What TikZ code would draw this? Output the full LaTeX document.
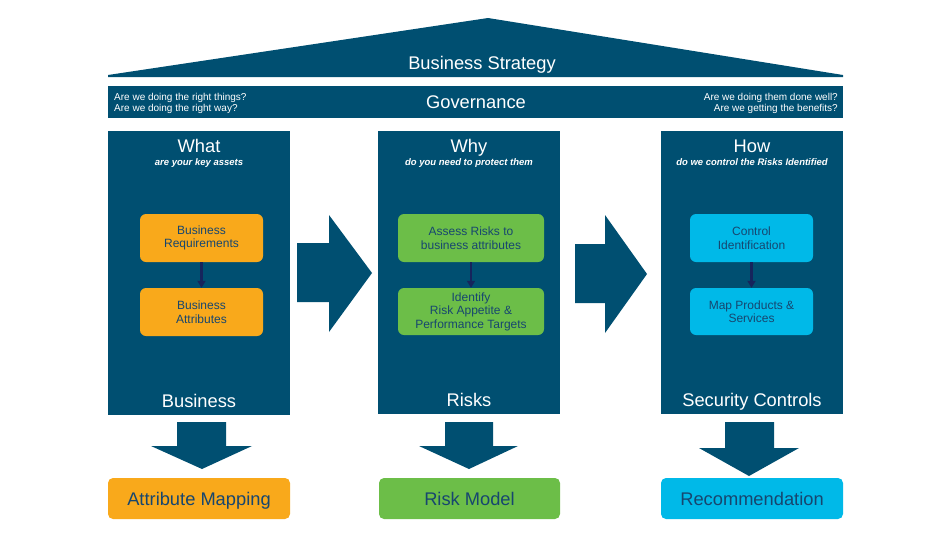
\documentclass[tikz,border=0pt]{standalone}
\usepackage{fontspec}
\setmainfont{Liberation Sans}
\usetikzlibrary{arrows.meta}
\definecolor{navy}{HTML}{004F71}
\definecolor{boxtext}{HTML}{17466F}
\definecolor{linkcol}{HTML}{16245C}
\definecolor{orange}{HTML}{F9A91B}
\definecolor{green}{HTML}{6CBE48}
\definecolor{cyan}{HTML}{00B9E8}
\tikzset{
  column/.style = {fill = navy, minimum width = 182pt, minimum height = 283pt, inner sep = 0pt},
  task/.style = {rounded corners = 6pt, minimum height = 48pt, inner sep = 0pt, align = center,
    text = boxtext, font = \fontsize{12}{13.5}\selectfont},
  result/.style = {rounded corners = 5pt, minimum width = 182pt, minimum height = 41pt, inner sep = 0pt,
    text = boxtext, font = \fontsize{18.3}{20}\selectfont, text height = 13pt, text depth = 0pt},
  heading/.style = {text = white, font = \fontsize{18.3}{20}\selectfont, inner sep = 0pt,
    text height = 13pt, text depth = 0pt},
  subheading/.style = {text = white, font = \fontsize{9.5}{11}\selectfont\bfseries\itshape, inner sep = 0pt,
    text height = 7pt, text depth = 0pt},
  question/.style = {text = white, font = \fontsize{10}{11}\selectfont, inner sep = 0pt},
  link/.style = {draw = linkcol, line width = 2.2pt, -{Triangle[width = 8pt, length = 7pt]}}
}
\begin{document}
\begin{tikzpicture}[x = 1pt, y = -1pt]
\useasboundingbox (0, 0) rectangle (931, 533);
% roof
\fill[navy] (108, 77) -- (108, 75) -- (488, 18) -- (843, 75) -- (843, 77) -- cycle;
\node[heading] (strategy) at (482, 63) {Business Strategy};
% governance bar
\node[fill = navy, minimum width = 735pt, minimum height = 32pt, inner sep = 0pt] (gov) at (475.5, 102) {};
\node[heading] (govtext) at (476, 102) {Governance};
\node[question, anchor = west, align = left] (qleft) at (114, 103.5) {Are we doing the right things?\\Are we doing the right way?};
\node[question, anchor = east, align = right] (qright) at (838, 103.5) {Are we doing them done well?\\Are we getting the benefits?};
% columns
\node[column, minimum height = 284pt] (what) at (199, 273) {};
\node[column] (why) at (469, 272.5) {};
\node[column] (how) at (752, 272.5) {};
\node[heading] (whattitle) at (199, 146) {What};
\node[subheading] (whatsub) at (199, 162) {are your key assets};
\node[heading] (whatfoot) at (199, 401) {Business};
\node[heading] (whytitle) at (469, 146) {Why};
\node[subheading] (whysub) at (469, 162) {do you need to protect them};
\node[heading] (whyfoot) at (469, 400) {Risks};
\node[heading] (howtitle) at (752, 146) {How};
\node[subheading] (howsub) at (752, 162) {do we control the Risks Identified};
\node[heading] (howfoot) at (752, 400) {Security Controls};
% tasks
\node[task, fill = orange, minimum width = 123pt] (req) at (201.5, 238) {Business\\Requirements};
\node[task, fill = orange, minimum width = 123pt] (attr) at (201.5, 312) {Business\\Attributes};
\draw[link] (req) -- (attr);
\node[task, fill = green, minimum width = 146pt] (assess) at (471, 238) {Assess Risks to\\business attributes};
\node[task, fill = green, minimum width = 146pt, minimum height = 47pt] (appetite) at (471, 311.5) {Identify\\Risk Appetite \&\\Performance Targets};
\draw[link] (assess) -- (appetite);
\node[task, fill = cyan, minimum width = 123pt] (control) at (751.5, 238) {Control\\Identification};
\node[task, fill = cyan, minimum width = 123pt, minimum height = 47pt] (products) at (751.5, 311.5) {Map Products \&\\Services};
\draw[link] (control) -- (products);
% block arrows
\fill[navy] (297, 243) -- (329, 243) -- (329, 215) -- (372, 273) -- (329, 332) -- (329, 302) -- (297, 302) -- cycle;
\fill[navy] (575, 244) -- (605, 244) -- (605, 215) -- (647, 274) -- (605, 333) -- (605, 303) -- (575, 303) -- cycle;
\fill[navy] (177, 422) -- (226, 422) -- (226, 446) -- (252, 446) -- (202, 469) -- (151, 446) -- (177, 446) -- cycle;
\fill[navy] (445, 422) -- (493, 422) -- (493, 446) -- (518, 446) -- (469, 469) -- (419, 446) -- (445, 446) -- cycle;
\fill[navy] (725, 422) -- (774, 422) -- (774, 448) -- (799, 448) -- (749, 476) -- (699, 448) -- (725, 448) -- cycle;
% results
\node[result, fill = orange] (mapping) at (199, 498.5) {Attribute Mapping};
\node[result, fill = green, minimum width = 181pt] (model) at (469.5, 498.5) {Risk Model};
\node[result, fill = cyan] (recommend) at (752, 498.5) {Recommendation};
\end{tikzpicture}
\end{document}
